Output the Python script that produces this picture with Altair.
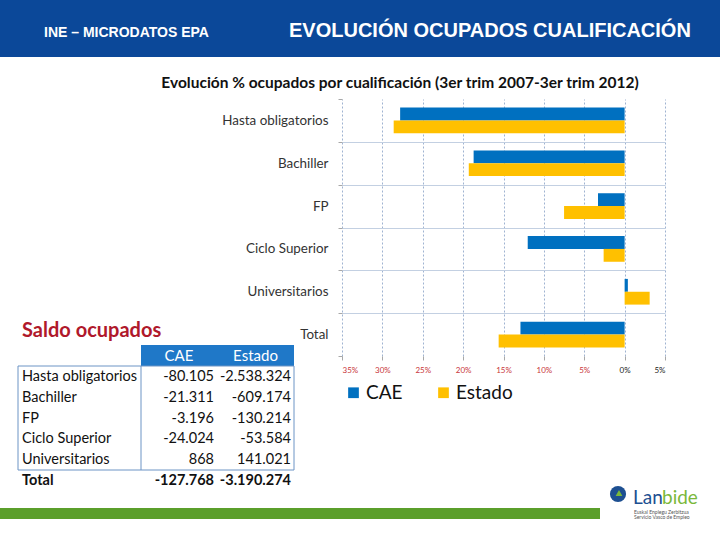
import altair as alt
import pandas as pd

# ---------------- data ----------------
categories = ["Hasta obligatorios", "Bachiller", "FP", "Ciclo Superior", "Universitarios", "Total"]
series = ["CAE", "Estado"]
cae_pct = [-27.8, -18.7, -3.3, -12.0, 0.4, -12.9]
estado_pct = [-28.6, -19.3, -7.5, -2.6, 3.1, -15.6]
x_ticks = [-35, -30, -25, -20, -15, -10, -5, 0, 5]

table_rows = ["Hasta obligatorios", "Bachiller", "FP", "Ciclo Superior", "Universitarios", "Total"]
saldo_cae = [-80105, -21311, -3196, -24024, 868, -127768]
saldo_estado = [-2538324, -609174, -130214, -53584, 141021, -3190274]

header_left = "INE – MICRODATOS EPA"
header_title = "EVOLUCIÓN OCUPADOS CUALIFICACIÓN"
chart_title = "Evolución % ocupados por cualificación (3er trim 2007-3er trim 2012)"
table_title = "Saldo ocupados"


def es(n):
    return f"{n:,}".replace(",", ".")


bars_df = pd.DataFrame(
    [{"cat": c, "serie": "CAE", "valor": v} for c, v in zip(categories, cae_pct)]
    + [{"cat": c, "serie": "Estado", "valor": v} for c, v in zip(categories, estado_pct)]
)
table_df = pd.DataFrame({
    "row": table_rows,
    "cae": [es(v) for v in saldo_cae],
    "estado": [es(v) for v in saldo_estado],
    "bold": [r == "Total" for r in table_rows],
})

# ---------------- layout ----------------
PL, PT, W, H = 342, 99, 323, 257
OX, OY = -PL, -PT
BODY = "Lato"


def px(x):
    return x + OX


def py(y):
    return y + OY


dummy = pd.DataFrame({"t": [""]})


def label(text, x, y, **kw):
    return alt.Chart(pd.DataFrame({"t": [text]})).mark_text(**kw).encode(
        x=alt.value(px(x)), y=alt.value(py(y)), text="t:N"
    )


def box(x1, x2, y1, y2, **kw):
    return alt.Chart(dummy).mark_rect(**kw).encode(
        x=alt.value(px(x1)), x2=alt.value(px(x2)), y=alt.value(py(y1)), y2=alt.value(py(y2))
    )


# header band
header = box(0, 720, 0, 57, color="#0b4899")
h1 = label(header_left, 44, 33, align="left", baseline="middle", font="Liberation Sans",
           fontSize=14, fontWeight="bold", color="white")
h2 = label(header_title, 289, 30.5, align="left", baseline="middle", font="Liberation Sans",
           fontSize=20, fontWeight="bold", color="white")

# chart title
t1 = label(chart_title, 400, 83, align="center", baseline="middle", font=BODY,
           fontSize=15.5, fontWeight="bold", color="#111111")

# bars
bars = alt.Chart(bars_df).mark_bar().encode(
    x=alt.X("valor:Q",
            scale=alt.Scale(domain=[-35, 5], nice=False, zero=False),
            axis=alt.Axis(values=x_ticks, title=None, grid=True, gridDash=[2, 2],
                          gridColor="#9fb3d1", gridWidth=1, domain=False,
                          tickSize=4, tickColor="#a8a8a8",
                          labelExpr="abs(datum.value) + '%'",
                          labelColor=alt.condition("datum.value < 0", alt.value("#c8353a"), alt.value("#222222")),
                          labelFont=BODY, labelFontSize=8, labelPadding=6)),
    y=alt.Y("cat:N", sort=categories,
            scale=alt.Scale(paddingInner=0, paddingOuter=0),
            axis=alt.Axis(title=None, tickBand="extent", grid=True, gridColor="#c3d0e2",
                          gridOpacity=alt.condition(
                              "datum.index >= 0 && datum.value != 'Total'",
                              alt.value(1), alt.value(0)),
                          domain=False, ticks=True, tickSize=4, tickColor="#a8a8a8",
                          labelPadding=10, labelFont=BODY, labelFontSize=13.4,
                          labelColor="#333333")),
    yOffset=alt.YOffset("serie:N", sort=series,
                        scale=alt.Scale(paddingInner=0, paddingOuter=0.667)),
    color=alt.Color("serie:N", scale=alt.Scale(domain=series, range=["#0070c0", "#ffc000"]),
                    legend=alt.Legend(title=None, orient="none", legendX=2, legendY=284,
                                      direction="horizontal", symbolType="square",
                                      symbolSize=115, symbolStrokeWidth=0, labelFont=BODY,
                                      labelFontSize=19, labelColor="#111111", labelOffset=3,
                                      columnPadding=31, padding=0)),
)

# table
tt = label(table_title, 22, 331, align="left", baseline="middle", font=BODY,
           fontSize=20, fontWeight="bold", color="#b0182b")
th = box(141, 294, 345, 366, color="#1f78c8")
th1 = label("CAE", 179, 356, align="center", baseline="middle", font=BODY, fontSize=15, color="white")
th2 = label("Estado", 255.5, 356, align="center", baseline="middle", font=BODY, fontSize=15, color="white")
tb = box(18, 294, 366, 470, fillOpacity=0, stroke="#6d94c5", strokeWidth=1)
tv = alt.Chart(dummy).mark_rule(color="#6d94c5", strokeWidth=1).encode(
    x=alt.value(px(141)), y=alt.value(py(366)), y2=alt.value(py(470)))

row_y = alt.Y("row:N", sort=table_rows,
              scale=alt.Scale(type="point", domain=table_rows, range=[py(377), py(481)], padding=0),
              axis=None)


def table_cols(bold):
    base = alt.Chart(table_df).transform_filter(
        "datum.bold" if bold else "!datum.bold")
    kw = dict(baseline="middle", font=BODY, fontSize=14.5, color="#111111",
              fontWeight="bold" if bold else "normal")
    c0 = base.mark_text(align="left", **kw).encode(x=alt.value(px(22)), y=row_y, text="row:N")
    c1 = base.mark_text(align="right", **kw).encode(x=alt.value(px(214)), y=row_y, text="cae:N")
    c2 = base.mark_text(align="right", **kw).encode(x=alt.value(px(291)), y=row_y, text="estado:N")
    return [c0, c1, c2]


table_layers = table_cols(False) + table_cols(True)

# footer band and logo
green = box(0, 600, 508, 519, color="#5b9f2b")
logo_c = alt.Chart(dummy).mark_point(filled=True, shape="circle", size=260, color="#1d4f91", opacity=1).encode(
    x=alt.value(px(618)), y=alt.value(py(494)))
logo_a = alt.Chart(dummy).mark_point(filled=True, shape="triangle-up", size=45, color="#7ab83a", opacity=1).encode(
    x=alt.value(px(619)), y=alt.value(py(493)))
logo_1 = label("Lan", 633, 498, align="left", baseline="middle", font=BODY, fontSize=19, color="#1d4f91")
logo_2 = label("bide", 662, 498, align="left", baseline="middle", font=BODY, fontSize=19, color="#7ab83a")
logo_3 = label("Euskal Enplegu Zerbitzua", 634, 512, align="left", baseline="middle", font=BODY,
               fontSize=5, color="#555555")
logo_4 = label("Servicio Vasco de Empleo", 634, 517, align="left", baseline="middle", font=BODY,
               fontSize=5, color="#555555")

chart = alt.layer(
    header, h1, h2, t1, th, tb, tv, th1, th2, tt, *table_layers,
    green, logo_c, logo_a, logo_1, logo_2, logo_3, logo_4, bars
).resolve_scale(y="independent").properties(
    width=W, height=H,
    padding={"left": PL, "top": PT, "right": 720 - PL - W, "bottom": 540 - PT - H},
    autosize=alt.AutoSizeParams(type="none"),
    background="white",
).configure_view(stroke=None)

chart.save("out.html", embed_options={"renderer": "svg", "actions": False})
